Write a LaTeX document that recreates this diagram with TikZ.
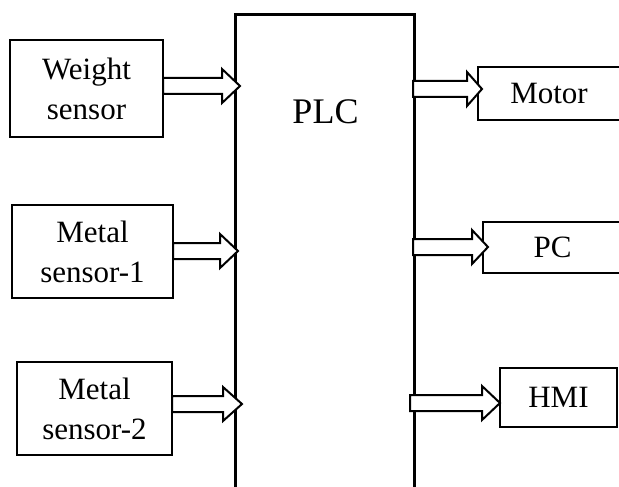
\documentclass[tikz,border=0pt]{standalone}
\usepackage{fontspec}
\setmainfont{Liberation Serif}
\tikzset{
  box/.style={draw=black, line width=2.6pt, fill=white, rectangle, inner sep=0pt, align=center,
    font=\fontsize{31}{40}\selectfont},
  blockarr/.style={draw=black, line width=2pt, fill=white, line join=miter},
}
% \barrow{x start}{head start x}{tip x}{center y}
\newcommand{\barrow}[4]{%
  \draw[blockarr] (#1,#4-8) -- (#2,#4-8) -- (#2,#4-17) -- (#3,#4) -- (#2,#4+17) -- (#2,#4+8) -- (#1,#4+8) -- cycle;}
\begin{document}
\begin{tikzpicture}[x=1pt,y=-1pt]
\useasboundingbox (0,0) rectangle (619,487);
\clip (0,0) rectangle (619,487);
% PLC
\node[box, minimum width=179pt, minimum height=520pt, anchor=north west] (plc) at (234,13) {};
\node[font=\fontsize{36}{40}\selectfont, anchor=base, inner sep=0pt] (plct) at (325.5,124) {PLC};
% inputs
\node[box, minimum width=153pt, minimum height=97pt] (w) at (86.5,88.5) {Weight\\sensor};
\node[box, minimum width=161pt, minimum height=93pt] (m1) at (92.5,251.5) {Metal\\sensor-1};
\node[box, minimum width=155pt, minimum height=93pt] (m2) at (94.5,408.5) {Metal\\sensor-2};
% outputs
\node[box, minimum width=142pt, minimum height=53pt] (mot) at (549,93.5) {Motor};
\node[box, minimum width=139pt, minimum height=51pt] (pc) at (552.5,247.5) {PC};
\node[box, minimum width=117pt, minimum height=59pt] (hmi) at (558.5,397.5) {HMI};
% arrows
\barrow{163}{222}{240}{86}
\barrow{173}{220}{238}{251}
\barrow{172}{223}{242}{404}
\barrow{413}{467}{482}{89}
\barrow{413}{472}{488}{247}
\barrow{410}{482}{500}{403}
\end{tikzpicture}
\end{document}
